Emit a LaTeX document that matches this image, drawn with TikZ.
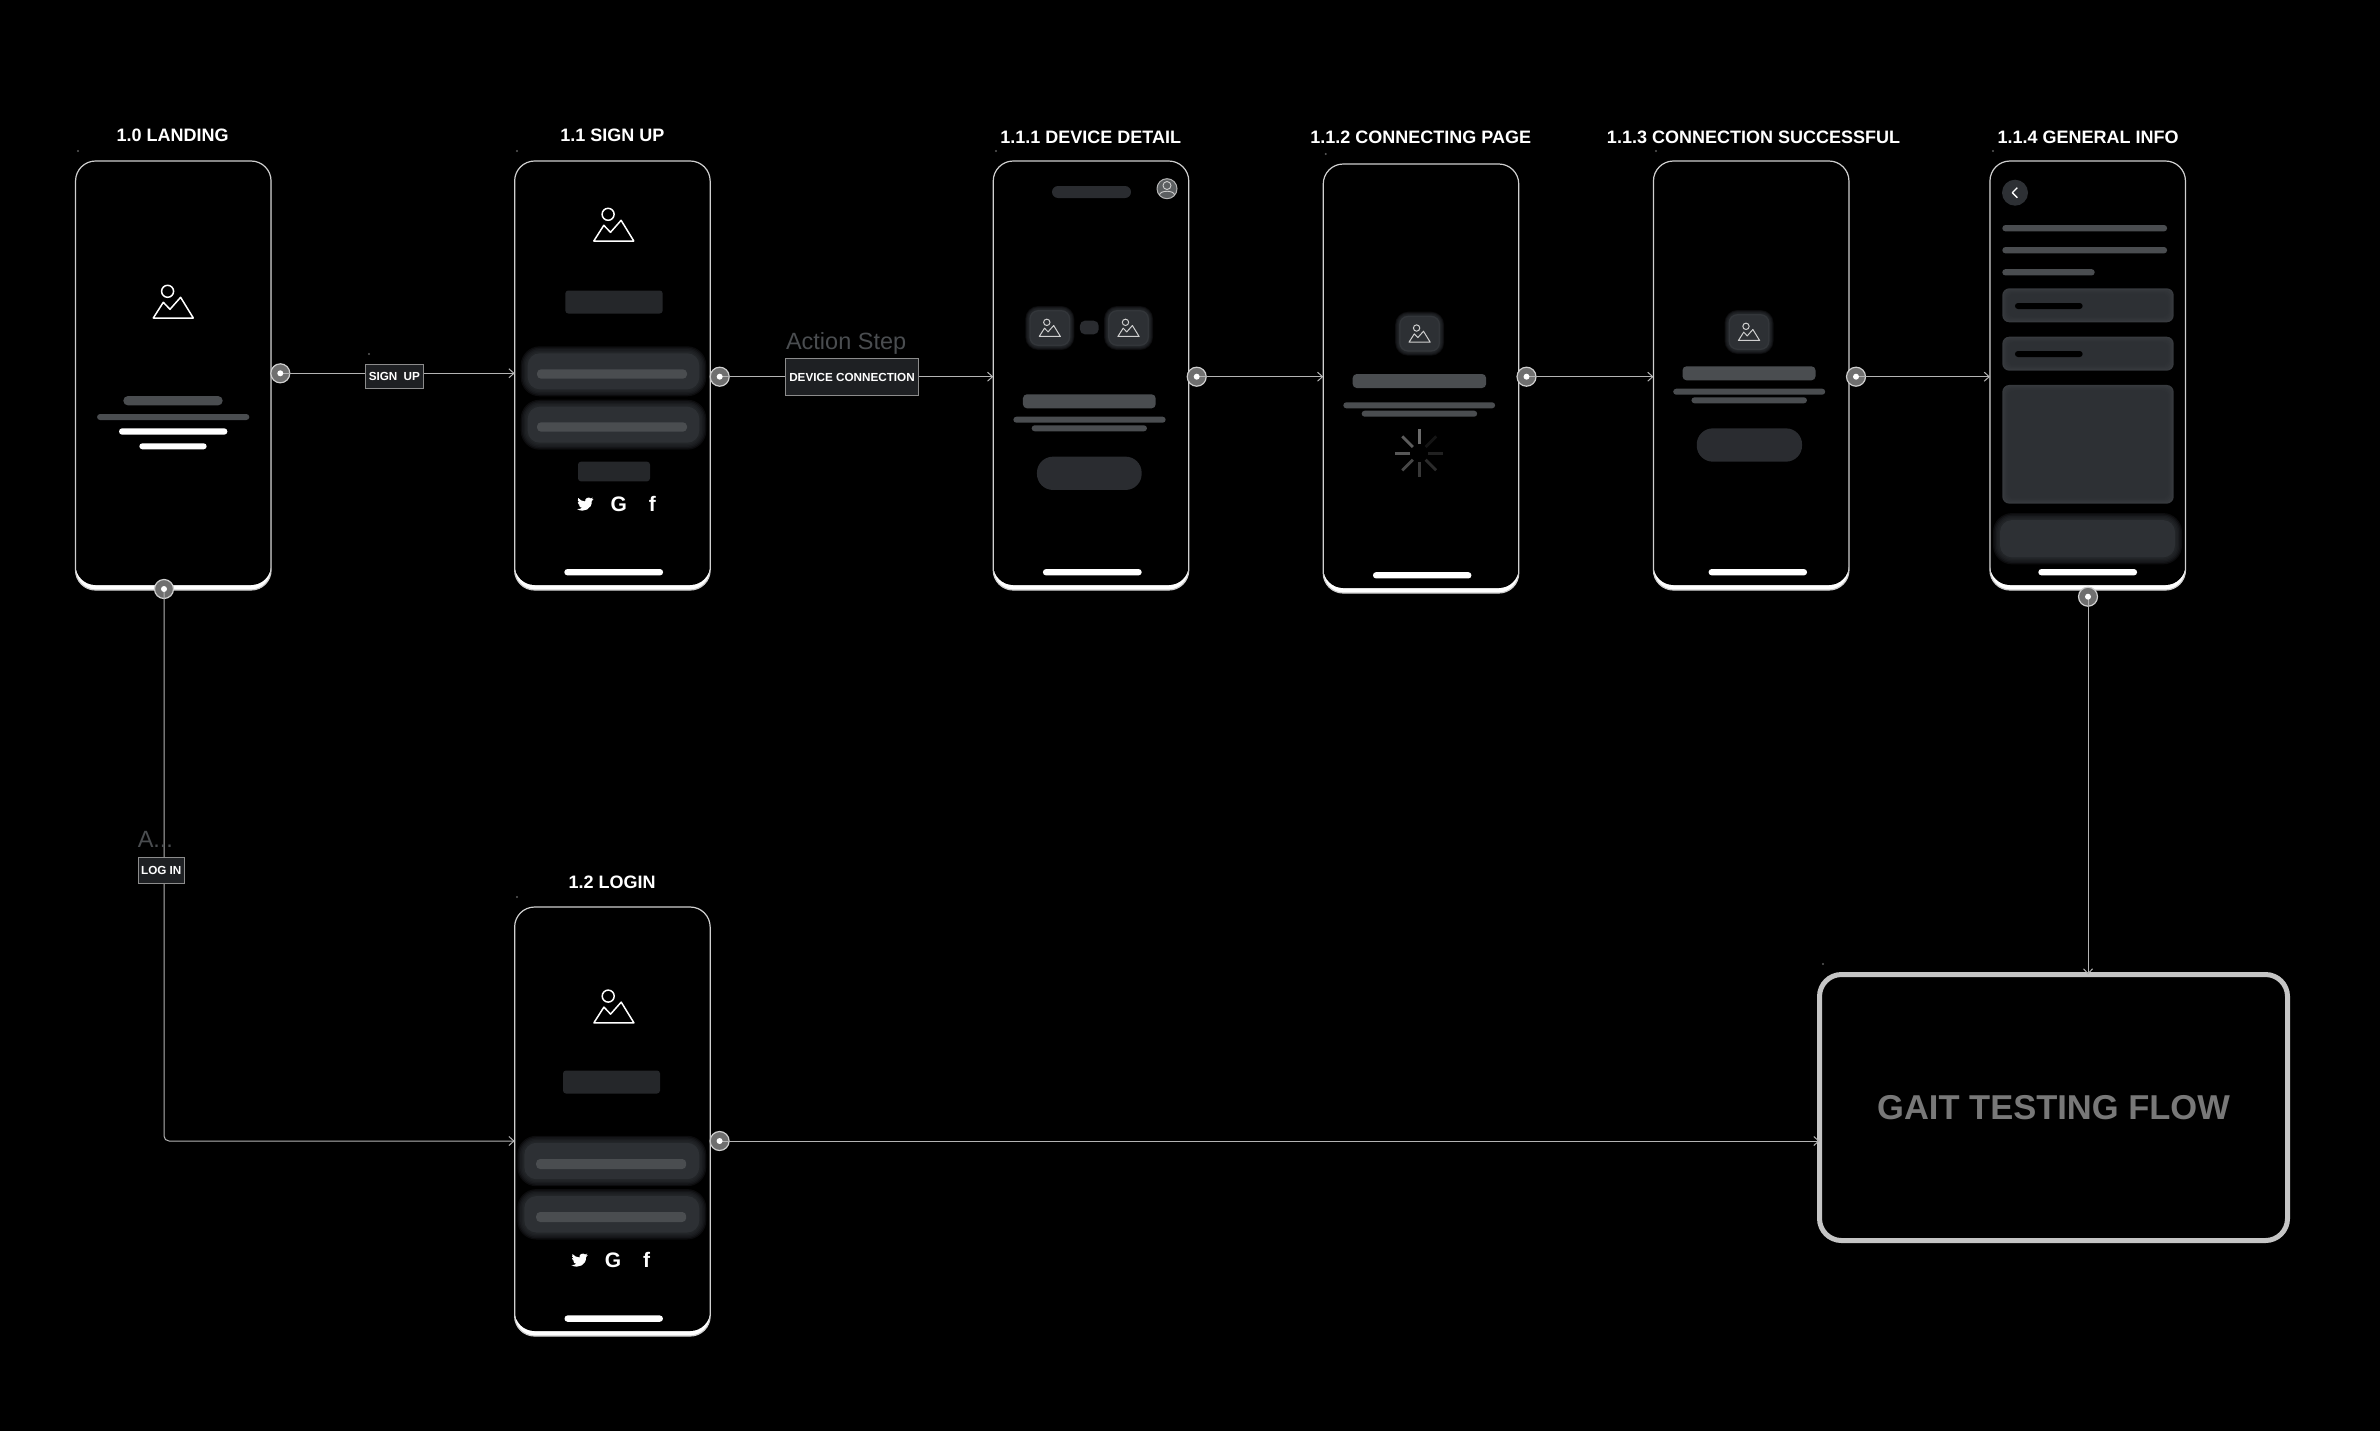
\documentclass[tikz,border=0pt]{standalone}
\usepackage{fontspec}
\setmainfont{Liberation Sans}
\usetikzlibrary{positioning,arrows.meta,calc}

\definecolor{framegray}{HTML}{CFCFCF}
\definecolor{linegray}{HTML}{B4B4B4}
\definecolor{bargray}{HTML}{4A4D50}
\definecolor{blockgray}{HTML}{25272A}
\definecolor{pillgray}{HTML}{2A2C30}
\definecolor{btngray}{HTML}{2D3034}
\definecolor{edgegray}{HTML}{3B3E42}
\definecolor{tagfill}{HTML}{1E2023}
\definecolor{handlegray}{HTML}{6F6F6F}
\definecolor{dotgray}{HTML}{5A5A5A}

\tikzset{
    phone/.style={draw=framegray, line width=1.2pt, fill=white, rounded corners=20pt,
        minimum width=195.5pt, minimum height=429pt, inner sep=0pt, outer sep=0pt,
        path picture={\fill[black, rounded corners=20pt]
            ($(path picture bounding box.south west)+(0,-5)$) rectangle (path picture bounding box.north east);}},
    phonetitle/.style={white, font=\bfseries\fontsize{18}{20}\selectfont, inner sep=0pt},
    flowbox/.style={draw=framegray!95!black, line width=5pt, rounded corners=22pt,
        minimum width=468pt, minimum height=266pt, outer sep=0pt,
        text=black!53, font=\bfseries\fontsize{34.5}{38}\selectfont},
    handle/.style={circle, fill=handlegray, draw=framegray, line width=1.2pt,
        minimum size=19pt, inner sep=0pt, outer sep=0pt},
    flow/.style={draw=linegray, line width=1pt, -{Straight Barb[length=5pt,width=9pt]}},
    tagbox/.style={draw=black!45, line width=1pt, fill=tagfill, text=white, inner sep=0pt,
        font=\bfseries\fontsize{11.7}{14}\selectfont},
    steplabel/.style={text=bargray, inner sep=0pt, font=\fontsize{23.5}{25}\selectfont},
    linebar/.style={fill=bargray, rounded corners=3pt},
    whitebar/.style={fill=white, rounded corners=3pt},
    blockbar/.style={fill=blockgray, rounded corners=3pt},
    pillbar/.style={fill=pillgray, rounded corners=16pt},
    socialtext/.style={white, inner sep=0pt, font=\bfseries\fontsize{21}{22}\selectfont},
    imgicon/.pic={
        \draw (-5.7,-10.7) circle (6);
        \draw[line join=round] (-20,16) -- (-10,0.3) -- (-3.3,7.3) -- (7.3,-4.7) -- (20,16) -- cycle;
    },
    birdicon/.pic={
        \fill[white, scale=.68, shift={(-12,-12)}] (24,4.6) -- (21.1,5.4) -- (23.3,2.6) -- (20.2,3.8)
            .. controls (17,0.8) and (10.8,3.6) .. (11.8,8.3)
            .. controls (7.7,8.1) and (4,6.1) .. (1.6,3.2)
            .. controls (0.3,5.4) and (1,8.3) .. (3.2,9.7) -- (0.9,9.1)
            .. controls (1,11.5) and (2.6,13.4) .. (4.9,14) -- (2.7,14.1)
            .. controls (3.4,16.1) and (5.2,17.4) .. (7.3,17.5)
            .. controls (5.4,19) and (2.6,19.8) .. (0,19.5)
            .. controls (10,25.6) and (22.2,18.8) .. (21.5,7.8)
            .. controls (22.5,7) and (23.3,6) .. (24,4.6) -- cycle;
    },
}

% x, y of the centre, then width, height, style
\newcommand{\uibar}[5]{\fill[#5] ({#1-(#3)/2},{#2-(#4)/2}) rectangle ++({#3},{#4});}
% soft halo: x, y, width, height, spread, radius
\newcommand{\glowbar}[6]{
    \foreach \g in {5,...,1}{
        \uibar{#1}{#2}{#3+2*\g*#5/5}{#4+2*\g*#5/5}{btngray, opacity=.27, rounded corners=(#6+\g*#5/5)*1pt}
    }
    \uibar{#1}{#2}{#3}{#4}{fill=btngray, rounded corners=#6pt}
}
\newcommand{\icontile}[2]{
    \glowbar{#1}{#2}{41}{36}{4}{9}
    \draw[edgegray, line width=1.2pt, opacity=.45, rounded corners=8pt] ({#1-19.7},{#2-17.2}) rectangle ++(39.4,34.4);
    \pic[scale=.53, color=framegray, line width=1pt] at (#1,#2) {imgicon};
}
\newcommand{\socialrow}[3]{
    \pic at (#2,#3) {birdicon};
    \node[socialtext] (#1g) at ({#2+33.4},{#3}) {G};
    \node[socialtext] (#1f) at ({#2+67},{#3}) {f};
}
\newcommand{\cardbar}[4]{
    \uibar{#1}{#2}{#3}{#4}{fill=edgegray!70!btngray, rounded corners=7pt}
    \foreach \g in {1.5,3,4.5,6}{
        \uibar{#1}{#2}{#3-2*\g}{#4-2*\g}{btngray, opacity=.4, rounded corners=6pt}
    }
}

\begin{document}
\begin{tikzpicture}[x=1pt,y=-1pt]
\useasboundingbox (0,0) rectangle (2380,1430);
\fill[black] (-5,-5) rectangle (2385,1435);

\node[phone] (landing) at (173.3,375.5) {};
\node[phone, right=243.6pt of landing] (signup) {};
\node[phone, right=283.1pt of signup] (device) {};
\node[phone, right=134.5pt of device, yshift=-3pt] (connecting) {};
\node[phone, right=134.7pt of connecting, yshift=3pt] (success) {};
\node[phone, right=141pt of success] (general) {};
\node[phone, below=317pt of signup] (login) {};
\node[flowbox] (gait) at (2053.5,1107.5) {GAIT TESTING FLOW};

\node[phonetitle] (landingtitle) at (172.7,135) {1.0 LANDING};
\node[phonetitle] (signuptitle) at (612.3,135) {1.1 SIGN UP};
\node[phonetitle] (devicetitle) at (1090.7,137) {1.1.1 DEVICE DETAIL};
\node[phonetitle] (connectingtitle) at (1420.8,137) {1.1.2 CONNECTING PAGE};
\node[phonetitle] (successtitle) at (1753.5,137) {1.1.3 CONNECTION SUCCESSFUL};
\node[phonetitle] (generaltitle) at (2088,137) {1.1.4 GENERAL INFO};
\node[phonetitle] (logintitle) at (612.2,882) {1.2 LOGIN};

\foreach \x/\y in {78/151,369/354,517/151,996/151,1325.7/154,1656/151,1993/151,517/897,1823/964}{
    \fill[dotgray] (\x,\y) circle (1.2);
}

% landing
\pic[white, line width=1.5pt] at (173.3,302) {imgicon};
\uibar{173}{400.7}{99.3}{9.3}{fill=bargray, rounded corners=4.5pt}
\uibar{173.2}{417}{152.3}{6}{linebar}
\uibar{173.2}{431.5}{108.3}{6.3}{whitebar}
\uibar{173}{446.3}{67.3}{6}{whitebar}

% sign up
\pic[white, line width=1.5pt] at (613.8,225) {imgicon};
\uibar{614}{302}{97.4}{23}{blockbar}
\glowbar{613.5}{371.3}{171.6}{36}{7}{12}
\uibar{612}{374}{150}{9.3}{fill=bargray, rounded corners=4pt}
\glowbar{613.5}{424.7}{171.6}{36}{7}{12}
\uibar{612}{427}{150}{9.3}{fill=bargray, rounded corners=4pt}
\uibar{614}{471.5}{72}{19.7}{blockbar}
\socialrow{su}{585.3}{504}
\uibar{613.7}{572.2}{98.7}{6.3}{whitebar}

% device detail
\uibar{1091.5}{192}{79}{12}{fill=pillgray, rounded corners=6pt}
\node[circle, fill=bargray!90!white, draw=linegray, line width=1pt, minimum size=20pt, inner sep=0pt] (avatar) at (1167,188.7) {};
\draw[framegray, line width=.9pt] (1167,185.5) circle (4);
\draw[framegray, line width=.9pt] (1159.5,195) .. controls (1160,190) and (1174,190) .. (1174.5,195);
\icontile{1049.8}{328}
\uibar{1089.3}{327.5}{18.7}{13.7}{fill=pillgray, rounded corners=5pt}
\icontile{1128.5}{328}
\uibar{1089.3}{401.3}{132.7}{14}{fill=bargray, rounded corners=4pt}
\uibar{1089.5}{419.7}{152.3}{6}{linebar}
\uibar{1089.3}{428.3}{115.3}{6}{linebar}
\uibar{1089.3}{473.3}{104.7}{33.3}{pillbar}
\uibar{1092.3}{572.2}{98.7}{6.3}{whitebar}

% connecting page
\icontile{1419.6}{333.7}
\uibar{1419.4}{381}{133.4}{14}{fill=bargray, rounded corners=4pt}
\uibar{1419.2}{405.3}{151.8}{6}{linebar}
\uibar{1419.4}{413.7}{115.5}{6}{linebar}
\begin{scope}[shift={(1419.2,453.3)}]
\foreach \a/\g in {-90/42,-135/36,180/34,135/28,90/22,45/17,0/13,-45/8}{
    \draw[color=white!\g!black, line width=2.8pt] (\a:9) -- (\a:24);
}
\end{scope}
\uibar{1422.2}{575.3}{98.4}{6.3}{whitebar}

% connection successful
\icontile{1749}{332}
\uibar{1749}{373.3}{133}{14}{fill=bargray, rounded corners=4pt}
\uibar{1749.2}{391.7}{152}{6}{linebar}
\uibar{1749.2}{400.3}{115.5}{6}{linebar}
\uibar{1749.4}{445}{105.3}{33.3}{pillbar}
\uibar{1757.8}{572.2}{98.4}{6.3}{whitebar}

% general info
\node[circle, fill=btngray, minimum size=26pt, inner sep=0pt] (back) at (2015,192.7) {};
\draw[white, line width=1.3pt, line join=round] (2017.3,187.7) -- (2012.3,192.7) -- (2017.3,197.7);
\uibar{2084.7}{228.2}{164.7}{6.3}{linebar}
\uibar{2084.7}{250.2}{164.7}{6.3}{linebar}
\uibar{2048.5}{272.3}{92.3}{6.3}{linebar}
\cardbar{2088}{305.3}{171.4}{34}
\uibar{2048.8}{306}{67.7}{6}{fill=black, rounded corners=3pt}
\cardbar{2088}{353.7}{171.4}{34}
\uibar{2048.8}{354}{67.7}{6}{fill=black, rounded corners=3pt}
\cardbar{2088}{444.3}{171.4}{118.7}
\glowbar{2087.5}{538.7}{175}{37.3}{7}{12}
\uibar{2087.7}{572.2}{98.7}{6.3}{whitebar}

% login
\pic[white, line width=1.5pt] at (613.9,1006.8) {imgicon};
\uibar{611.5}{1082}{97}{23}{blockbar}
\glowbar{611.8}{1161}{175}{36.4}{7}{12}
\uibar{611.2}{1164}{150}{10}{fill=bargray, rounded corners=4pt}
\glowbar{611.8}{1214.3}{175}{36.4}{7}{12}
\uibar{611.2}{1217}{150}{10}{fill=bargray, rounded corners=4pt}
\socialrow{li}{579.6}{1260}
\uibar{613.7}{1318.6}{98.4}{6.3}{whitebar}

% connectors
\node[handle] (hlanding) at (280.3,373.3) {};
\node[handle] (hsignup) at (719.7,376.7) {};
\node[handle] (hdevice) at (1196.7,376.7) {};
\node[handle] (hconnecting) at (1526.5,376.7) {};
\node[handle] (hsuccess) at (1856,376.7) {};
\node[handle] (hgeneral) at (2088,596.7) {};
\node[handle] (hdown) at (164,589) {};
\node[handle] (hlogin) at (719.6,1141) {};

\draw[flow] (hlanding.center) -- (hlanding.center -| signup.west);
\draw[flow] (hsignup.center) -- (hsignup.center -| device.west);
\draw[flow] (hdevice.center) -- (hdevice.center -| connecting.west);
\draw[flow] (hconnecting.center) -- (hconnecting.center -| success.west);
\draw[flow] (hsuccess.center) -- (hsuccess.center -| general.west);
\draw[flow] (hgeneral.center) -- (hgeneral.center |- gait.north);
\draw[flow, rounded corners=5pt] (hdown.center) |- (hlogin.center -| login.west);
\draw[flow] (hlogin.center) -- (hlogin.center -| gait.west);

\foreach \h in {hlanding,hsignup,hdevice,hconnecting,hsuccess,hgeneral,hdown,hlogin}{
    \fill[white] (\h) circle (3);
}

\node[tagbox, minimum width=58pt, minimum height=24.4pt] (signuptag) at (394.3,376.5) {SIGN\hspace{3pt} UP};
\node[tagbox, minimum width=133.4pt, minimum height=37.4pt] (devicetag) at (852,377) {DEVICE CONNECTION};
\node[tagbox, minimum width=46.5pt, minimum height=26.6pt] (logintag) at (161.3,870.3) {LOG IN};
\node[steplabel, anchor=base west] (devicestep) at ($(devicetag.north west)+(1,-8.3)$) {Action Step};
\node[steplabel, anchor=base west] (loginstep) at ($(logintag.north west)+(0,-9)$) {A...};
\end{tikzpicture}
\end{document}
